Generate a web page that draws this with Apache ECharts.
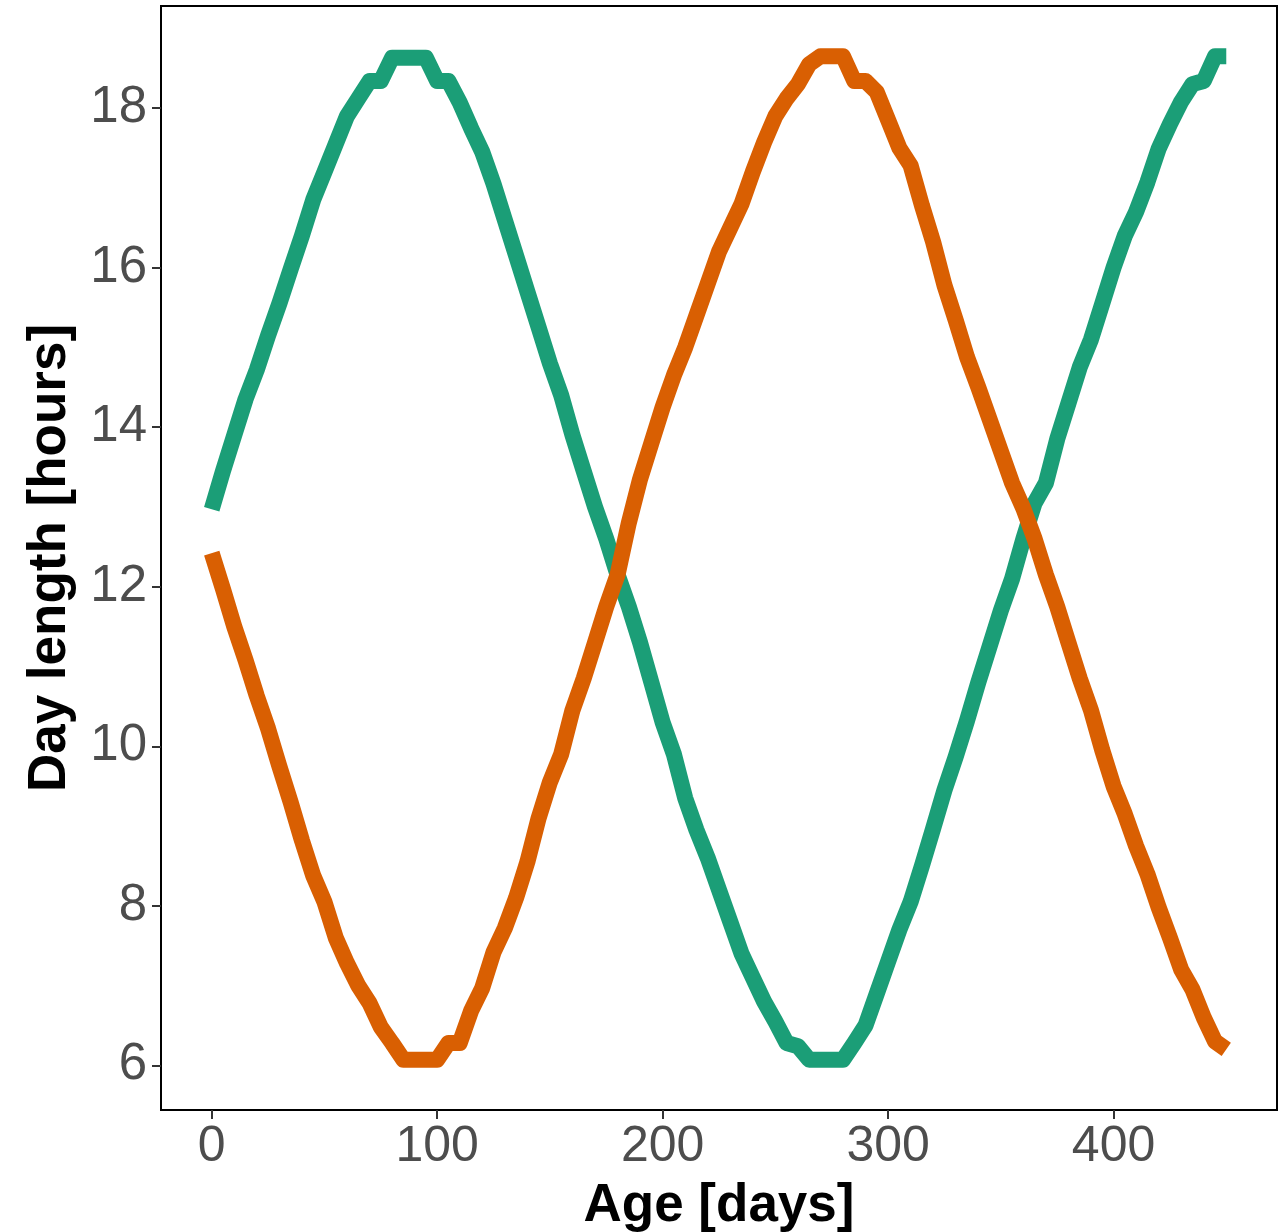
<!DOCTYPE html>
<html>
<head>
<meta charset="utf-8">
<script src="https://cdn.jsdelivr.net/npm/echarts@6/dist/echarts.min.js"></script>
<style>
html,body{margin:0;padding:0;background:#fff;}
#chart{width:1280px;height:1232px;}
</style>
</head>
<body>
<div id="chart"></div>
<script>
const days = [0,5,10,15,20,25,30,35,40,45,50,55,60,65,70,75,80,85,90,95,100,105,110,115,120,125,130,135,140,145,150,155,160,165,170,175,180,185,190,195,200,205,210,215,220,225,230,235,240,245,250,255,260,265,270,275,280,285,290,295,300,305,310,315,320,325,330,335,340,345,350,355,360,365,370,375,380,385,390,395,400,405,410,415,420,425,430,435,440,445,450];

const greenHours = [12.97,13.45,13.9,14.35,14.72,15.15,15.55,15.98,16.4,16.85,17.2,17.55,17.9,18.12,18.34,18.34,18.63,18.63,18.63,18.63,18.34,18.34,18.07,17.75,17.45,17.05,16.6,16.15,15.7,15.25,14.8,14.4,13.9,13.45,13.0,12.6,12.15,11.75,11.3,10.8,10.3,9.9,9.35,8.95,8.6,8.2,7.8,7.4,7.1,6.8,6.55,6.28,6.24,6.07,6.07,6.07,6.07,6.28,6.5,6.9,7.3,7.7,8.05,8.5,8.97,9.45,9.87,10.32,10.8,11.25,11.7,12.1,12.6,13.05,13.3,13.85,14.3,14.75,15.1,15.55,16.0,16.4,16.7,17.07,17.49,17.8,18.08,18.3,18.34,18.65,18.65];

const orangeHours = [12.42,11.97,11.5,11.08,10.63,10.22,9.75,9.3,8.82,8.38,8.05,7.6,7.28,7.0,6.78,6.48,6.28,6.07,6.07,6.07,6.07,6.28,6.28,6.68,6.97,7.42,7.72,8.1,8.55,9.1,9.55,9.9,10.45,10.85,11.3,11.75,12.15,12.8,13.35,13.8,14.25,14.65,15.0,15.4,15.8,16.2,16.5,16.8,17.2,17.57,17.9,18.12,18.3,18.55,18.65,18.65,18.65,18.34,18.34,18.2,17.85,17.5,17.28,16.78,16.32,15.78,15.34,14.88,14.5,14.1,13.7,13.3,12.98,12.6,12.15,11.75,11.3,10.85,10.45,9.95,9.5,9.15,8.75,8.4,7.98,7.6,7.2,6.95,6.6,6.3,6.2];

const xTicks = [0,100,200,300,400];
const yTicks = [6,8,10,12,14,16,18];

const greenData = days.map((d,i)=>[d, greenHours[i]]);
const orangeData = days.map((d,i)=>[d, orangeHours[i]]);

const chart = echarts.init(document.getElementById('chart'), null, {renderer:'canvas'});
const font = "'Liberation Sans', Arial, sans-serif";
chart.setOption({
  animation:false,
  backgroundColor:'#fff',
  grid:{left:161,right:3,top:6,bottom:122,show:true,borderColor:'#000',borderWidth:2,backgroundColor:'transparent',
        containLabel:false,outerBoundsMode:'none'},
  xAxis:{
    type:'value', min:-22.5, max:472.5,
    name:'Age [days]', nameLocation:'middle', nameGap:70,
    nameTextStyle:{fontFamily:font,fontWeight:'bold',fontSize:53,color:'#000'},
    axisLine:{show:false,onZero:false},
    axisTick:{show:true,length:9,lineStyle:{color:'#333',width:2},customValues:xTicks},
    axisLabel:{show:true,customValues:xTicks,fontFamily:font,fontSize:50,color:'#4d4d4d',margin:12},
    splitLine:{show:false}
  },
  yAxis:{
    type:'value', min:5.44, max:19.28,
    name:'Day length [hours]', nameLocation:'middle', nameGap:84, nameRotate:90,
    nameTextStyle:{fontFamily:font,fontWeight:'bold',fontSize:53,color:'#000'},
    axisLine:{show:false,onZero:false},
    axisTick:{show:true,length:9,lineStyle:{color:'#333',width:2},customValues:yTicks},
    axisLabel:{show:true,customValues:yTicks,fontFamily:font,fontSize:51,color:'#4d4d4d',margin:14},
    splitLine:{show:false}
  },
  series:[
    {type:'line',data:greenData,showSymbol:false,smooth:false,
     lineStyle:{color:'#1b9e77',width:16,cap:'butt',join:'round'},z:2},
    {type:'line',data:orangeData,showSymbol:false,smooth:false,
     lineStyle:{color:'#d95f02',width:16,cap:'butt',join:'round'},z:3}
  ]
});
</script>
</body>
</html>
